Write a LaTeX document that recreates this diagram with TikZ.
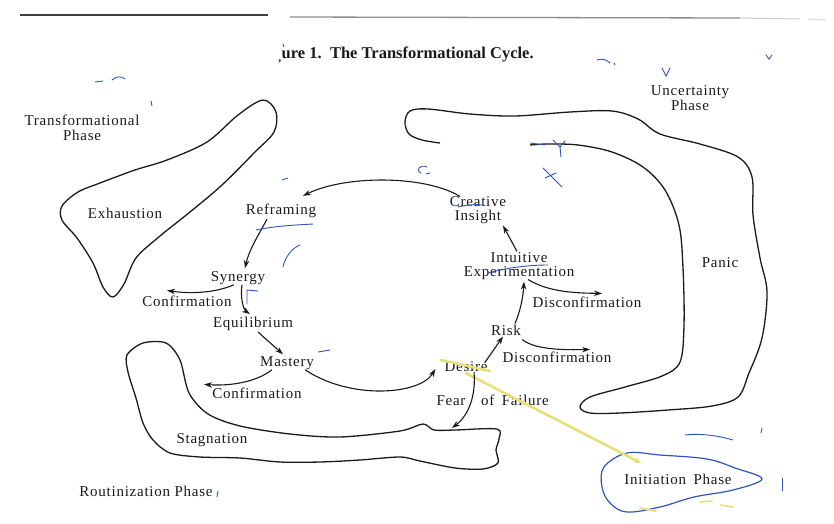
\documentclass[tikz,border=0pt]{standalone}
\usepackage{fontspec}
\setmainfont{Liberation Serif}[LetterSpace=5]
\newfontfamily\headfont{Liberation Serif}
\usetikzlibrary{arrows.meta,calc}

\definecolor{ink}{HTML}{1A1A1A}
\definecolor{pen}{HTML}{2F55B8}
\definecolor{marker}{HTML}{E6DF7A}

\tikzset{
  lbl/.style={inner sep=1pt, text=ink, align=center,
    font=\fontsize{15}{14}\selectfont},
  blob/.style={draw=ink, line width=1.3pt, line join=round},
  arr/.style={draw=ink, line width=1.1pt,
    -{Stealth[length=8pt,width=5.5pt]}},
  pencil/.style={draw=pen, line width=0.9pt, line cap=round},
  highlight/.style={draw=marker, line width=2.6pt, line cap=round},
}

\begin{document}
\begin{tikzpicture}[x=1pt,y=-1pt]
\useasboundingbox[fill=white] (0,0) rectangle (834,523);

% rules at the head of the page
\draw[line width=1.6pt, draw=black!75] (20,15) -- (268,15);
\draw[line width=1.3pt, draw=black!45] (290,17) -- (740,18);
\draw[line width=1.0pt, draw=black!20] (740,18) -- (800,19);
\draw[line width=1.0pt, draw=black!15] (808,19) -- (826,20);

% caption
\node[inner sep=0pt, text=ink, font=\headfont\fontsize{16.5}{16.5}\selectfont\bfseries]
  (cap) at (406,55) {\textsubscript{,}ure 1.\enspace The Transformational Cycle.};

% phase labels
\node[lbl] (tph) at (82,128) {Transformational\\[1pt]Phase};
\node[lbl] (uph) at (690,98) {Uncertainty\\[1pt]Phase};
\node[lbl] (rph) at (146,491) {Routinization Phase};

% Exhaustion region
\draw[blob] plot[smooth cycle, tension=0.55] coordinates {
  (263,100) (276,112) (274,132) (255,152) (222,185) (190,212) (160,236)
  (136,258) (124,284) (113,297) (103,287) (93,263) (77,238) (62,220)
  (62,206) (78,192) (100,183) (135,170) (167,160) (207,142) (238,115)};
\node[lbl] (exh) at (125,213) {Exhaustion};

% Panic region (open along its inner upper edge)
\draw[blob] plot[smooth, tension=0.55] coordinates {
  (440,143) (422,140) (409,134) (405,122) (410,111) (428,109) (470,114)
  (515,116) (570,112) (612,111) (638,119) (660,134) (700,144) (738,157)
  (752,177) (753,215) (760,258) (767,292) (762,338) (749,373) (738,397)
  (712,406) (668,410) (620,413) (590,413) (580,407) (590,397) (625,387)
  (662,376) (680,362) (684,325) (683,268) (679,225) (665,190) (643,167)
  (612,152) (578,145) (548,144) (530,145)};
\node[lbl] (pan) at (720,263) {Panic};

% Stagnation region
\draw[blob] plot[smooth cycle, tension=0.5] coordinates {
  (143,343) (166,343) (180,360) (189,393) (208,414) (240,426) (290,434)
  (340,437) (400,431) (423,424) (434,430) (455,430) (497,429) (499,439)
  (496,450) (498,463) (483,469) (455,468) (420,461) (400,457) (360,460)
  (320,462) (280,462) (240,458) (200,457) (170,453) (153,440) (143,423)
  (136,398) (128,372) (127,355)};
\node[lbl] (stg) at (212,440) {Stagnation};

% Initiation region, drawn over in pen
\draw[pen, line width=1.2pt, line join=round] plot[smooth cycle, tension=0.6] coordinates {
  (604,467) (627,453) (660,455) (707,459) (735,468) (762,479) (733,490)
  (694,497) (660,507) (627,512) (610,503) (602,487)};
\node[lbl] (ini) at (678,479) {Initiation\enspace Phase};

% stages of the cycle
\node[lbl] (cre) at (478,210) {Creative\\[-0.5pt]Insight};
\node[lbl] (ref) at (281,211) {Reframing};
\node[lbl] (syn) at (238,278) {Synergy};
\node[lbl] (cf1) at (187,301) {Confirmation};
\node[lbl] (equ) at (253,324) {Equilibrium};
\node[lbl] (mas) at (287,363) {Mastery};
\node[lbl] (cf2) at (257,393) {Confirmation};
\node[lbl] (des) at (466,367) {Desire};
\node[lbl] (fea) at (451,401) {Fear};
\node[lbl] (off) at (515,400) {of\enspace Failure};
\node[lbl] (rsk) at (506,330) {Risk};
\node[lbl] (dc2) at (557,357) {Disconfirmation};
\node[lbl] (int) at (519,266) {Intuitive\\[-0.5pt]Experimentation};
\node[lbl] (dc1) at (587,302) {Disconfirmation};

% marker stroke from Desire toward the initiation phase
\draw[highlight] (441,360) -- (490,371);
\draw[highlight, -{Stealth[length=7pt,width=6pt]}] (des.south) -- (641,463);
\draw[highlight, line width=2pt] (640,508) -- (656,511);
\draw[highlight, line width=1.6pt] (700,502) -- (712,501);
\draw[highlight, line width=1.6pt] (720,505) -- (733,507);

% connectors of the cycle
\coordinate (ffend) at (452,428);
\draw[arr] ([xshift=-18pt,yshift=-1pt]cre.north) .. controls (425,175) and (345,175) .. ([xshift=22pt,yshift=7pt]ref.north);
\draw[arr] ([xshift=-14pt]ref.south) .. controls (258,236) and (249,250) .. ([xshift=7pt,yshift=2pt]syn.north);
\draw[arr] ([xshift=-4pt,yshift=1pt]syn.south) .. controls (215,293) and (190,294) .. ([xshift=-20pt,yshift=4pt]cf1.north);
\draw[arr] ([xshift=4pt,yshift=1pt]syn.south) .. controls (240,300) and (244,310) .. ([xshift=-3pt,yshift=2pt]equ.north);
\draw[arr] ([xshift=5pt]equ.south) -- ([xshift=-4pt,yshift=1pt]mas.north);
\draw[arr] ([xshift=-15pt,yshift=1pt]mas.south) .. controls (255,383) and (228,386) .. ([xshift=-53pt,yshift=2pt]cf2.north);
\draw[arr] ([xshift=18pt,yshift=1pt]mas.south) .. controls (350,400) and (420,395) .. ([xshift=-8pt,yshift=-2pt]des.west);
\draw[arr] ([xshift=-4pt,yshift=-2pt]des.north east) -- ([xshift=-3pt]rsk.south);
\draw[arr] ([xshift=8pt,yshift=1pt]des.south) .. controls (476,395) and (469,415) .. (ffend);
\draw[arr] ([yshift=-3pt]rsk.south east) .. controls (535,350) and (565,350) .. ([xshift=33pt,yshift=1pt]dc2.north);
\draw[arr] ([xshift=9pt]rsk.north) .. controls (520,312) and (523,298) .. ([xshift=5pt,yshift=-1pt]int.south);
\draw[arr] ([xshift=9pt,yshift=1pt]int.south) .. controls (550,293) and (580,293) .. ([xshift=15pt,yshift=2pt]dc1.north);
\draw[arr] ([xshift=-2pt]int.north) -- ([xshift=25pt,yshift=-1pt]cre.south);

% pen marks in the margins and over the labels
\draw[pencil] (256,230) .. controls (275,226) and (295,225) .. (313,224);
\draw[pencil] (283,267) .. controls (285,257) and (292,248) .. (300,245);
\draw[pencil] (282,180) -- (288,178);
\draw[pencil] (427,167) .. controls (420,164) and (415,170) .. (421,173);
\draw[pencil] (426,174) -- (430,173);
\draw[pencil] (458,207) .. controls (466,205) and (475,204) .. (483,205);
\draw[pencil] (488,273) .. controls (505,268) and (528,265) .. (548,265);
\draw[pencil] (247,304) -- (247,290) -- (258,291);
\draw[pencil] (95,82) -- (103,81);
\draw[pencil] (112,80) .. controls (116,76) and (122,76) .. (125,79);
\draw[pencil] (151,101) -- (152,106);
\draw[pencil] (283,44) -- (284,47);
\draw[pencil] (597,60) .. controls (602,58) and (607,60) .. (610,63);
\draw[pencil] (614,63) -- (615,65);
\draw[pencil] (662,68) -- (666,76) -- (670,68);
\draw[pencil] (766,55) -- (769,59) -- (772,55);
\draw[pencil] (530,143) -- (545,145);
\draw[pencil] (553,140) -- (560,147) -- (565,141);
\draw[pencil] (560,147) -- (561,157);
\draw[pencil] (543,168) -- (562,187);
\draw[pencil] (545,178) -- (556,173);
\draw[pencil] (318,352) -- (330,350);
\draw[pencil] (685,435) .. controls (700,433) and (720,436) .. (733,440);
\draw[pencil] (762,428) -- (761,433);
\draw[pencil] (782,478) -- (782,491);
\draw[pencil] (218,491) -- (217,497);
\draw[pencil] (405,123) -- (406,126);
\end{tikzpicture}
\end{document}
